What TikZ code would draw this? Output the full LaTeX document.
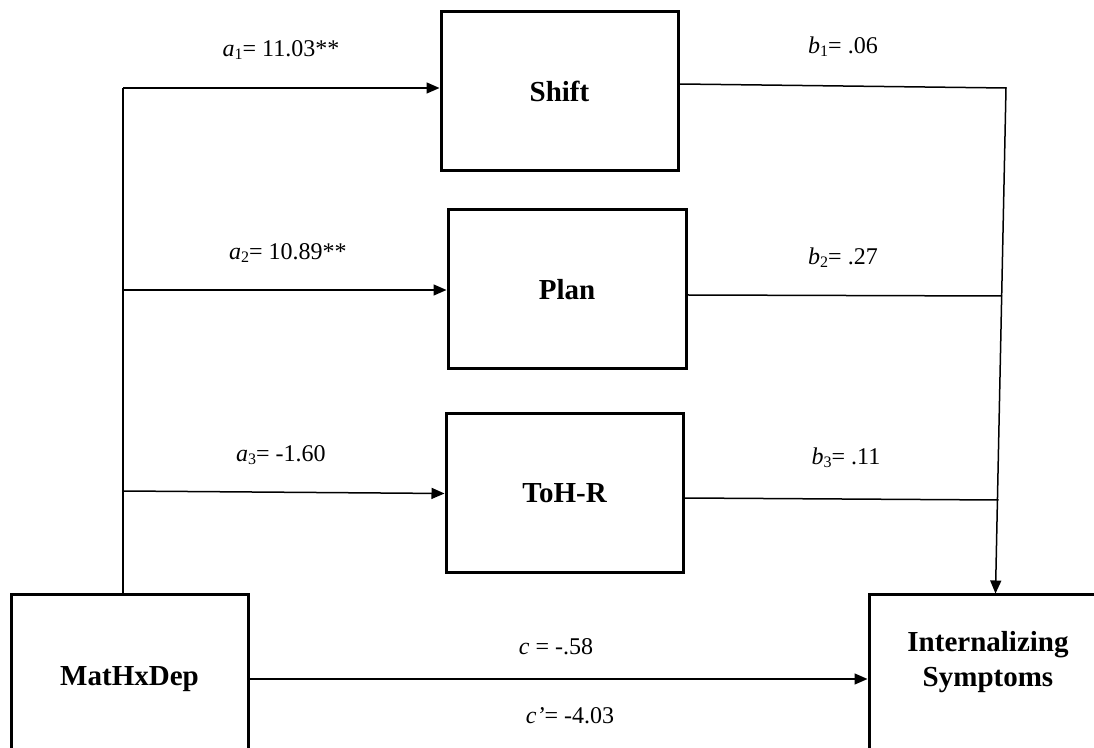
\documentclass[tikz,border=0pt]{standalone}
\usepackage{fontspec}
\setmainfont{Liberation Serif}
\usetikzlibrary{arrows.meta}
\newcommand{\lsub}[2]{\textit{#1}\raisebox{-0.25ex}{\fontsize{8}{9}\selectfont #2}}
\begin{document}
\begin{tikzpicture}[x=0.5pt,y=-0.5pt,
  box/.style={draw, line width=1.5pt, inner sep=0pt},
  conn/.style={line width=0.75pt},
  arr/.style={conn,-{Triangle[length=6.5pt,width=5.5pt]}},
  lbl/.style={font=\fontsize{12}{14}\selectfont, inner sep=0pt},
  ttl/.style={font=\fontsize{14.5}{17}\selectfont\bfseries, align=center, inner sep=0pt}]
\useasboundingbox (0,0) rectangle (1094,748);
\clip (0,0) rectangle (1094,748);
% boxes
\node[box, ttl, minimum width=118.5pt, minimum height=79.5pt] (shift) at (559.5,91.5) {Shift};
\node[box, ttl, minimum width=119pt, minimum height=79.5pt] (plan) at (567,289.5) {Plan};
\node[box, ttl, minimum width=118.5pt, minimum height=79.5pt] (toh) at (564.5,493.5) {ToH-R};
\node[box, ttl, minimum width=118.5pt, minimum height=84pt] (matx) at (129.5,679) {MatHxDep};
\node[box, minimum width=165.5pt, minimum height=152.5pt] (int) at (1034.5,747.5) {};
\node[ttl] (inttxt) at (988,662) {Internalizing\\[0.5pt]Symptoms};
% left connectors
\coordinate (ltop) at (123,88);
\coordinate (l2) at (123,290);
\coordinate (l3) at (123,491);
\draw[conn] (matx.north -| ltop) -- (ltop);
\draw[arr] (ltop) -- (ltop -| shift.west);
\draw[arr] (l2) -- (l2 -| plan.west);
\draw[arr] (l3) -- (toh.west);
% right connectors
\coordinate (rtop) at (1006,88);
\coordinate (r2) at (1002,296);
\coordinate (r3) at (998.5,500);
\draw[arr] ([yshift=3.75pt]shift.east) -- (rtop) -- ([xshift=64pt]int.north west);
\draw[conn] ([yshift=-2.75pt]plan.east) -- (r2);
\draw[conn] ([yshift=-2.25pt]toh.east) -- (r3);
% direct path
\draw[arr] (matx.east) -- (matx.east -| int.west);
% labels
\node[lbl] (la1) at (281,50) {\lsub{a}{1}= 11.03**};
\node[lbl] (lb1) at (843,47) {\lsub{b}{1}= .06};
\node[lbl] (la2) at (288,253) {\lsub{a}{2}= 10.89**};
\node[lbl] (lb2) at (843,258) {\lsub{b}{2}= .27};
\node[lbl] (la3) at (281,455) {\lsub{a}{3}= -1.60};
\node[lbl] (lb3) at (846,458) {\lsub{b}{3}= .11};
\node[lbl] (lc) at (556,647) {\textit{c} = -.58};
\node[lbl] (lcp) at (570,716) {\textit{c’}= -4.03};
\end{tikzpicture}
\end{document}
